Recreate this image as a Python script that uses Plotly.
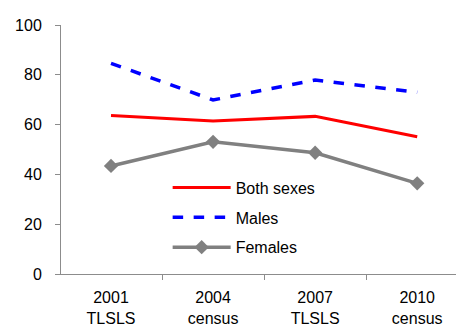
import plotly.graph_objects as go

categories = ["2001<br>TLSLS", "2004<br>census", "2007<br>TLSLS", "2010<br>census"]
both_sexes = [63.7, 61.4, 63.3, 55.1]
males = [84.6, 69.9, 77.9, 73.0]
females = [43.4, 53.1, 48.7, 36.4]
y_ticks = [0, 20, 40, 60, 80, 100]

FONT = "Liberation Sans, Arial, sans-serif"

fig = go.Figure()
fig.add_trace(go.Scatter(x=categories, y=both_sexes, name="Both sexes", mode="lines",
                         line=dict(color="#FF0000", width=3), legendgroup="a"))
fig.add_trace(go.Scatter(x=categories, y=males, name="Males", mode="lines",
                         line=dict(color="#0000FF", width=3.5, dash="dash"), legendgroup="b"))
fig.add_trace(go.Scatter(x=categories, y=females, name="Females", mode="lines+markers",
                         line=dict(color="#808080", width=3.5),
                         marker=dict(symbol="diamond", size=11, color="#808080"),
                         legendgroup="c"))

fig.update_layout(
    width=456, height=326,
    margin=dict(l=61, r=0, t=25, b=52),
    paper_bgcolor="white", plot_bgcolor="white",
    font=dict(family=FONT, size=16, color="black"),
    showlegend=True,
    legend=dict(x=0.27, y=0.415, xanchor="left", yanchor="top",
                bgcolor="rgba(0,0,0,0)", font=dict(size=16),
                traceorder="grouped", tracegroupgap=6, itemwidth=58),
    xaxis=dict(type="category", range=[-0.49, 3.38], showgrid=False, automargin=False,
               showline=True, linecolor="#8C8C8C", linewidth=1,
               ticks="outside", tickson="boundaries", ticklen=5, tickcolor="#8C8C8C",
               tickfont=dict(size=16), ticklabelstandoff=9),
    yaxis=dict(range=[0, 100], tickvals=y_ticks, showgrid=False, zeroline=False, automargin=False,
               showline=True, linecolor="#8C8C8C", linewidth=1,
               ticks="outside", ticklen=5, tickcolor="#8C8C8C",
               tickfont=dict(size=16), ticklabelstandoff=10),
)

fig.write_html("out.html", config={"displayModeBar": False},
               post_script="document.body.style.margin='0';document.body.style.overflow='hidden';")
